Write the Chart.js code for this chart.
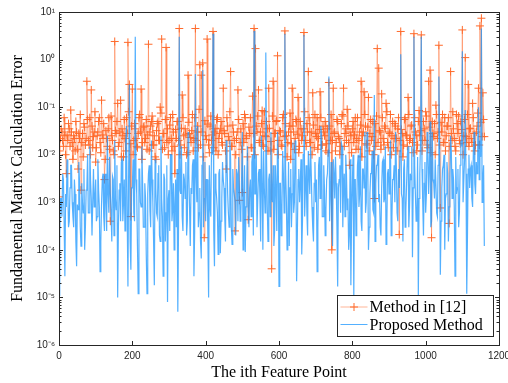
<!DOCTYPE html>
<html>
<head>
<meta charset="utf-8">
<script src="https://cdn.jsdelivr.net/npm/chart.js@4.4.1/dist/chart.umd.min.js"></script>
<style>
    html, body { margin: 0; padding: 0; background: #fff; }
    #wrap { width: 508px; height: 383px; }
</style>
</head>
<body>
<div id="wrap"><canvas id="errChart" width="508" height="383"></canvas></div>
<script>
// === Données ===
// valeurs aux positions 0, 4, 8, ... puis aux positions intermédiaires 2, 6, 10, ...
const sampleStep = 4;
const xTicks = [0, 200, 400, 600, 800, 1000, 1200];
const yDecades = [1e-6, 1e-5, 1e-4, 1e-3, 1e-2, 1e-1, 1, 10];
const seriesNames = ['Method in [12]', 'Proposed Method'];

const method12 = [
    1.3e-3, 2.2e-2, 3e-2, 1.5e-2, 2.5e-2, 4e-3, 2e-2, 3.5e-2, 8.7e-2, 1.8e-2,
    2.5e-2, 1.2e-2, 3e-2, 5e-3, 2.2e-2, 1.8e-3, 2.8e-2, 4.5e-2, 1.6e-2, 3.5e-1,
    2e-2, 6e-2, 2.3e-1, 1.4e-2, 3e-2, 7e-3, 2.5e-2, 5e-2, 1.8e-2, 1.4e-1,
    2.2e-2, 3e-3, 3.2e-2, 1.5e-2, 6e-2, 4e-4, 2.5e-2, 1.2e-2, 2.4, 2.8e-2,
    1.2e-1, 1.8e-2, 1.4e-1, 3.5e-2, 9e-3, 2.2e-2, 6e-2, 2.3, 3e-1, 5e-4,
    2.4e-1, 2e-2, 3.5e-2, 1.5e-2, 2.8e-2, 7e-2, 2.4e-1, 1.8e-2, 4e-2, 2.2e-2,
    1.3e-2, 2.1, 3e-2, 5e-2, 1.6e-2, 2.5e-2, 8e-3, 4.5e-2, 2e-2, 1e-1,
    2.7, 2.8e-2, 1.4e-2, 1.8, 3.5e-2, 2e-2, 6e-2, 1.2e-2, 3e-2, 4e-3,
    2.2e-2, 5e-2, 4.5, 1.6e-2, 1.8e-1, 2.5e-2, 3.5e-2, 1e-2, 4.7e-1, 2.8e-2,
    1.8e-2, 7e-2, 2.2e-2, 4.5, 3e-2, 1.4e-2, 7.8e-1, 4.7e-1, 8.5e-1, 1.8e-4,
    2.5e-2, 2.7, 1.6e-2, 4e-2, 2e-2, 3.9, 3e-2, 1.2e-2, 6e-2, 2.2e-2,
    3.5e-2, 1.8e-2, 2.5e-1, 2.8e-2, 5e-3, 4e-2, 2e-2, 5.6e-1, 1.5e-2, 3e-2,
    2.5e-4, 2.2e-2, 2.3e-1, 1.1e-3, 3.5e-2, 1.6e-3, 1.8e-2, 6e-2, 2.5e-2, 4.3e-4,
    2.8e-2, 1.4e-2, 1.7e-1, 4.5, 1.7, 3e-2, 2.3e-1, 2e-2, 4.5e-2, 1.6e-2,
    8e-2, 2.4e-2, 3.5e-2, 2.5e-1, 1.2e-2, 4e-5, 3.5e-1, 2.8e-2, 5e-2, 1.2,
    2e-2, 3e-2, 1.5e-2, 7e-2, 4, 2.5e-2, 1.8e-2, 4e-2, 8e-3, 2.5e-1,
    3e-2, 2.2e-2, 5e-2, 1.6e-1, 1.5e-2, 3.5e-2, 2.5e-2, 3.7, 2e-2, 4.5e-2,
    5.6e-1, 1.8e-2, 3e-2, 2e-1, 1.4e-2, 2.8e-2, 6e-2, 2.2e-2, 2.1e-1, 1.6e-2,
    4e-2, 2.5e-2, 1.2e-2, 3.5e-2, 3.3e-1, 2e-2, 1e-4, 2.5e-1, 3e-2, 1.8e-2,
    5e-2, 2.2e-2, 1.5e-2, 7e-2, 2.5e-1, 2.8e-2, 2e-2, 4e-2, 6e-3, 2.5e-2,
    3.5e-2, 1.8e-2, 6e-2, 2.2e-2, 1.3e-2, 3e-2, 3.5e-1, 2.5e-2, 2.1e-1, 4e-2,
    1.6e-2, 1.6e-1, 2.8e-2, 2e-2, 5e-2, 1.2e-3, 1.5e-2, 1.7, 6.6e-1, 3e-2,
    1.9e-1, 2.2e-2, 4e-2, 1.2e-1, 1.8e-2, 3e-2, 7e-2, 2.5e-2, 1.4e-2, 4.5e-2,
    2.2e-2, 3.5e-2, 2.1e-4, 3.9, 2.8e-2, 1.6e-2, 6e-2, 2.5e-2, 1.6e-1, 2e-2,
    4e-2, 1.8e-2, 3.5, 3e-2, 1.2e-2, 5e-2, 2.5e-2, 3.3, 2e-2, 3.5e-2,
    8e-2, 1.6e-2, 3.5e-1, 6e-1, 1.8e-4, 2.8e-2, 4.5e-2, 1.1e-1, 2.2e-2, 2,
    7.6e-4, 3e-2, 1.8e-2, 6e-2, 2.5e-2, 4e-2, 3.6e-4, 5.6e-1, 2e-2, 3.5e-2,
    1.5e-2, 7e-2, 2.8e-2, 2e-2, 5e-2, 4.2, 2.5e-2, 1.1, 1.8e-2, 3e-1,
    3.5e-2, 2.2e-2, 1.2e-1, 2.8e-2, 1.6e-2, 4e-2, 2.5e-1, 5.1, 7.4, 2e-1, 2.4e-2
];

const method12Mid = [
    1.2e-2, 3.5e-2, 2e-2, 6e-2, 1e-2, 2.6e-2, 4.5e-2, 1.5e-2, 3e-2, 8e-3,
    2.2e-2, 5e-2, 1.3e-2, 2.8e-2, 7e-2, 1.8e-2, 9e-3, 3.8e-2, 2.2e-2, 5.5e-2,
    1.6e-2, 1e-2, 4e-2, 2.4e-2, 8e-2, 1.4e-2, 3e-2, 6e-2, 1.1e-2, 2.6e-2,
    4.5e-2, 8e-3, 2.2e-2, 3.5e-2, 1.3e-2, 6.5e-2, 2e-2, 1e-2, 3.2e-2, 5e-2,
    1.5e-2, 3e-2, 9e-3, 2.5e-2, 5.5e-2, 1.2e-2, 2.8e-2, 8e-2, 1.7e-2, 4e-2,
    1e-2, 4.5e-2, 2.2e-2, 1.4e-2, 6e-2, 3e-2, 8e-3, 3.8e-2, 1.8e-2, 5.5e-2,
    2.6e-2, 1.2e-2, 4e-2, 6.5e-2, 1.6e-2, 9e-3, 3.2e-2, 5e-2, 2e-2, 7.5e-2,
    1.3e-2, 2.8e-2, 5.5e-2, 1.8e-2, 1e-2, 4.2e-2, 2.2e-2, 7e-2, 1.5e-2, 3.4e-2,
    5e-2, 2e-2, 1e-2, 3.6e-2, 6e-2, 1.4e-2, 2.7e-2, 1.1e-2, 4.8e-2, 2.3e-2,
    3.2e-2, 1.2e-2, 6e-2, 2e-2, 4e-2, 9e-2, 1.6e-2, 3e-2, 9e-3, 5.2e-2,
    2.1e-2, 4.4e-2, 1.1e-2, 6.5e-2, 2.6e-2, 1.4e-2, 3.6e-2, 5.5e-2, 1e-2, 2.8e-2,
    5e-2, 1.6e-2, 3.2e-2, 1.2e-2, 6e-2, 2.4e-2, 8e-2, 1.5e-2, 4.2e-2, 2e-2,
    1e-2, 3e-2, 5.5e-2, 1.8e-2, 1.3e-2, 4.5e-2, 7e-2, 2.2e-2, 9e-3, 3.8e-2,
    6e-2, 1.4e-2, 2.8e-2, 1e-2, 4e-2, 6.5e-2, 1.8e-2, 3e-2, 8.5e-2, 1.5e-2,
    2.5e-2, 5e-2, 1.2e-2, 3.6e-2, 1.9e-2, 6.5e-2, 1.3e-2, 2.8e-2, 5.2e-2, 1e-2,
    3.2e-2, 1.6e-2, 6e-2, 2.4e-2, 4.5e-2, 9e-3, 3e-2, 7.5e-2, 1.7e-2, 4e-2,
    1.3e-2, 5.5e-2, 2.7e-2, 1.1e-2, 5e-2, 2e-2, 3.5e-2, 8e-2, 1.5e-2, 3e-2,
    6e-2, 1.8e-2, 1e-2, 4.2e-2, 7e-2, 2.4e-2, 1.3e-2, 3.4e-2, 6e-2, 1.6e-2,
    3e-2, 5e-2, 1.7e-2, 1.1e-2, 4e-2, 7e-2, 2e-2, 2.8e-2, 1.2e-2, 5.5e-2,
    2.4e-2, 1e-2, 4.5e-2, 6.5e-2, 1.5e-2, 3.5e-2, 9e-2, 1.8e-2, 3e-2, 1.1e-2,
    5e-2, 2.6e-2, 1.3e-2, 6e-2, 2e-2, 4.2e-2, 9e-3, 3e-2, 7e-2, 1.7e-2,
    3.8e-2, 1.2e-2, 5.5e-2, 2.4e-2, 1e-2, 4.5e-2, 6.5e-2, 1.8e-2, 3.2e-2, 1.3e-2,
    6e-2, 1.6e-2, 3.6e-2, 8e-2, 1.4e-2, 2.8e-2, 1e-2, 5e-2, 2.2e-2, 4e-2,
    1.2e-2, 6e-2, 2e-2, 3.4e-2, 9e-3, 5.5e-2, 2.6e-2, 1.5e-2, 7e-2, 2.2e-2,
    4.2e-2, 1.1e-2, 6e-2, 2.6e-2, 1.6e-2, 8.5e-2, 3.2e-2, 1.2e-2, 5e-2, 2e-2,
    6.5e-2, 1.4e-2, 3.8e-2, 1.1e-2, 5e-2, 2.4e-2, 1e-2, 7e-2, 3e-2, 1.6e-2,
    4.8e-2, 7e-2, 1.8e-2, 1.2e-2, 4e-2, 6e-2, 1.5e-2, 2.8e-2, 8e-2, 2.2e-2,
    1.2e-2, 4.5e-2, 6.5e-2, 1.7e-2, 3.4e-2, 1e-2, 5.5e-2, 2.4e-2, 7e-2, 1.5e-2,
    3.6e-2, 1.8e-2, 6e-2, 1.2e-2, 3e-2, 7.5e-2, 1.6e-2, 4.8e-2, 2.4e-2, 5.5e-2
];

const proposed = [
    1.1e-5, 1.2e-3, 5e-4, 3e-3, 2.8e-5, 8e-4, 2e-3, 4e-4, 6e-3, 1e-3,
    3e-4, 1.5e-3, 4.5e-5, 7e-4, 2.5e-3, 1.2e-4, 1e-3, 5e-3, 3e-4, 2e-3,
    6e-4, 1.5e-2, 1.2e-3, 2e-4, 8e-4, 3e-3, 5e-4, 1.8e-3, 3.5e-5, 9e-4,
    4e-3, 2.5e-4, 1.2e-3, 2.5e-2, 6e-4, 1.5e-3, 1.5e-4, 3e-3, 2e-2, 7e-4,
    1e-5, 1.8e-3, 4e-4, 8e-3, 1e-3, 2.5e-4, 4e-2, 1.7e-5, 3e-1, 3.8e-5,
    2e-3, 6e-4, 3, 1.5e-3, 1.2e-5, 5e-3, 8e-4, 2.5e-3, 3e-4, 1.2e-3,
    1.2e-5, 4e-3, 7e-4, 2e-2, 1e-3, 1.8e-5, 2e-3, 5e-4, 6e-3, 1.5e-4,
    1.2e-3, 2.8e-5, 3e-3, 6e-4, 8e-6, 1.8e-3, 1e-2, 4e-4, 2.5e-3, 9e-4,
    3e-4, 5e-6, 3, 1.5e-3, 5e-4, 4e-3, 1.2e-3, 2e-4, 3e-2, 8e-4,
    2e-3, 6e-3, 2.8e-5, 5e-1, 1e-3, 3e-4, 2e-3, 6.6e-5, 6e-1, 1.2e-3,
    4e-4, 3e-3, 1e-5, 8e-4, 1.5e-2, 3.5, 4.5e-5, 2e-3, 6e-4, 4e-3,
    8.5e-5, 1.2e-3, 3e-3, 5e-4, 2e-2, 1.5e-3, 3e-4, 8e-3, 1.3e-4, 2e-3,
    1e-3, 5e-3, 4e-4, 1.8e-3, 6e-4, 3e-2, 1.2e-3, 9e-5, 3e-3, 7e-4,
    2e-3, 5e-4, 1e-2, 4, 1.5e-3, 3e-4, 4e-3, 1.2e-3, 2.5e-2, 1e-4,
    2e-3, 1.4, 8e-4, 3e-3, 5e-4, 1.5e-3, 6e-3, 2.5e-4, 2e-3, 3e-2,
    1.7e-5, 2.5e-3, 8e-4, 4e-3, 3.5, 1.2e-3, 3e-4, 1.2e-4, 5e-3, 1.5e-3,
    6e-4, 2e-2, 2.2e-5, 3e-3, 1e-3, 8e-3, 4e-4, 3.3, 2e-3, 6e-4,
    1.2e-2, 1.5e-3, 4e-3, 3e-4, 2.5e-3, 1e-3, 3.5e-5, 6e-3, 1.2e-3, 2.5e-2,
    5e-4, 2e-3, 7e-4, 4e-3, 4.4e-1, 1.5e-3, 3e-4, 8e-3, 1.2e-3, 2.5e-3,
    1.7e-5, 3e-3, 6e-4, 1.5e-2, 2e-3, 5e-4, 4e-3, 1.2e-3, 2e-4, 1.8e-5,
    2.5e-3, 1e-5, 3e-3, 8e-4, 1e-2, 1.5e-3, 4e-4, 5e-3, 2e-3, 6e-4,
    3e-2, 1e-4, 1.5e-3, 4e-3, 7e-4, 1.8e-1, 2.5e-3, 6e-3, 1e-3, 3e-4,
    2e-3, 8e-3, 1.2e-3, 1.3e-4, 4e-3, 1.5e-3, 2e-2, 5e-4, 3e-3, 1e-3,
    6e-3, 4e-4, 2e-3, 1.3, 1.2e-3, 5e-3, 3e-4, 2.5e-3, 1.5e-2, 8e-4,
    3e-3, 7e-5, 3, 1.5e-3, 5e-4, 1.1e-5, 4e-3, 3, 1e-3, 2.5e-3,
    6e-4, 3e-2, 1.5e-3, 5e-2, 4e-4, 3e-3, 1.2e-3, 8e-3, 5e-4, 4.4e-1,
    3e-5, 2e-3, 6e-3, 1e-4, 1.5e-3, 4e-3, 8e-4, 2.5e-2, 1.2e-3, 3e-3,
    2.8e-5, 1.5e-3, 5e-3, 6e-4, 2e-2, 1.5, 1e-3, 8.7e-2, 1.2e-5, 5e-3,
    2e-3, 6e-3, 8e-4, 3e-2, 1.5e-3, 4e-3, 1e-1, 2e-2, 4.5, 3e-3, 1.2e-4
];

const proposedMid = [
    2e-4, 1.2e-3, 4e-3, 4e-4, 1.5e-3, 8e-3, 3e-4, 2e-3, 6e-3, 5e-4,
    3e-3, 1.5e-4, 9e-4, 7e-3, 3e-4, 2.5e-3, 6e-4, 1e-4, 1.8e-3, 1e-2,
    6e-4, 3e-3, 2e-4, 5e-3, 1.2e-3, 4e-4, 8e-3, 8e-4, 1.5e-4, 3e-3,
    5e-4, 4e-3, 2.5e-4, 1.5e-3, 9e-3, 6e-4, 3.5e-3, 2e-4, 1.2e-3, 6e-3,
    3e-4, 2.5e-3, 7e-3, 4e-4, 3e-3, 2e-2, 5e-4, 5e-3, 1.5e-4, 2e-3,
    8e-3, 4e-4, 3e-3, 1.2e-4, 5e-3, 1e-3, 1.5e-2, 3e-4, 2.5e-3, 8e-5,
    1.5e-3, 6e-3, 3e-4, 3e-3, 1.5e-4, 8e-3, 6e-4, 4e-3, 2e-4, 2.5e-2,
    5e-4, 4e-3, 1.5e-4, 6e-3, 1.2e-3, 2.5e-4, 1e-2, 7e-4, 1e-4, 3e-3,
    5e-3, 3e-4, 1.8e-3, 1.5e-2, 2.5e-4, 3e-3, 7e-3, 4e-4, 4e-3, 1.2e-4,
    1.5e-3, 8e-3, 2.5e-4, 3.5e-3, 4e-2, 6e-4, 1.5e-4, 6e-3, 3e-4, 7e-3,
    3e-3, 2e-4, 6e-3, 5e-4, 1e-2, 2.5e-4, 4e-3, 1.2e-3, 8e-5, 5e-3,
    4e-4, 7e-3, 2e-3, 1.5e-4, 8e-3, 6e-4, 2e-2, 3e-4, 5e-3, 1.5e-3,
    2e-4, 4e-3, 9e-3, 4e-4, 3e-3, 1e-4, 6e-3, 8e-4, 1.5e-2, 3e-4,
    3e-3, 7e-3, 2e-4, 1.5e-3, 1e-2, 3e-4, 5e-3, 1.5e-4, 2.5e-3, 1.2e-2,
    6e-4, 8e-3, 1.5e-4, 4e-3, 3e-2, 1e-3, 1.2e-4, 6e-3, 2.5e-4, 9e-3,
    2.5e-3, 2e-4, 1.2e-2, 6e-4, 5e-3, 1e-4, 7e-3, 2e-3, 3e-4, 1.8e-2,
    1e-3, 8e-3, 2e-4, 5e-3, 2.5e-3, 8e-5, 1e-2, 5e-4, 6e-3, 2e-4,
    4e-3, 1.5e-2, 8e-4, 1.5e-4, 7e-3, 3e-3, 3e-4, 9e-3, 4e-2, 5e-4,
    6e-3, 2e-4, 3e-3, 1.2e-2, 4e-4, 7e-3, 1.2e-4, 4e-3, 9e-3, 3e-4,
    2e-3, 6e-3, 1.8e-2, 3e-4, 4e-3, 1e-2, 7e-4, 1e-4, 8e-3, 5e-4,
    1e-2, 3e-3, 2e-4, 6e-3, 8e-4, 1.5e-2, 2.5e-4, 5e-3, 3e-2, 1e-3,
    8e-3, 3e-4, 4e-3, 1.2e-2, 6e-4, 1.5e-4, 6e-3, 1e-2, 1.5e-3, 2e-4,
    7e-3, 1e-3, 1.5e-2, 3e-4, 5e-3, 9e-3, 2e-4, 3e-3, 6e-3, 3e-2,
    6e-4, 5e-3, 1.2e-2, 1.5e-3, 1.5e-4, 8e-3, 7e-4, 1e-2, 3e-4, 4e-3,
    1.5e-2, 2e-3, 6e-3, 4e-4, 9e-3, 1.2e-3, 2e-2, 5e-3, 2e-4, 7e-3,
    1.5e-3, 1.2e-2, 5e-3, 3e-4, 3e-2, 2.5e-3, 8e-3, 6e-4, 6e-3, 1.5e-2,
    4e-4, 5e-3, 1e-2, 1.2e-3, 7e-3, 1.5e-4, 3e-3, 1.2e-2, 5e-3, 8e-4,
    9e-3, 2e-3, 3e-4, 6e-3, 1.5e-2, 1e-3, 8e-3, 4e-3, 2e-4, 1e-2,
    5e-3, 1.2e-3, 1.2e-2, 2.5e-3, 7e-3, 2e-2, 3e-3, 9e-3, 1e-3, 6e-3
];

// === Styles ===
const axisColor = '#262626';
const orangeMark = '#ff6a2b';
const orangeLine = 'rgba(255, 110, 50, 0.5)';
const blueLine = 'rgba(25, 150, 255, 0.75)';
const serif = "'Liberation Serif', 'Times New Roman', serif";
const sans = "'Liberation Sans', Arial, sans-serif";

const supMap = { '-': '⁻', '0': '⁰', '1': '¹', '2': '²', '3': '³', '4': '⁴', '5': '⁵', '6': '⁶', '7': '⁷', '8': '⁸', '9': '⁹' };
const toSup = s => String(s).split('').map(c => supMap[c] || c).join('');

// fusionne les deux relevés dans l'ordre des positions
function toPoints(main, mid) {
    const pts = [];
    main.forEach((v, i) => {
        pts.push({ x: i * sampleStep, y: v });
        if (i < mid.length) pts.push({ x: i * sampleStep + sampleStep / 2, y: mid[i] });
    });
    return pts;
}

// === Cadre MATLAB : boîte, graduations vers l'intérieur, légende ===
const matlabFrame = {
    id: 'matlabFrame',
    afterDatasetsDraw(chart) {
        const { ctx, chartArea: a, scales } = chart;
        const xs = scales.x, ys = scales.y;
        ctx.save();
        ctx.strokeStyle = axisColor;
        ctx.lineWidth = 1;
        ctx.beginPath();
        xTicks.forEach(t => {
            const px = Math.round(xs.getPixelForValue(t)) + 0.5;
            ctx.moveTo(px, a.bottom); ctx.lineTo(px, a.bottom - 4);
            ctx.moveTo(px, a.top); ctx.lineTo(px, a.top + 4);
        });
        for (let d = 0; d < yDecades.length; d++) {
            const base = yDecades[d];
            for (let m = 1; m <= 9; m++) {
                const v = base * m;
                if (v > yDecades[yDecades.length - 1] + 1e-9) break;
                const py = Math.round(ys.getPixelForValue(v)) + 0.5;
                const len = m === 1 ? 4 : 2.5;
                ctx.moveTo(a.left, py); ctx.lineTo(a.left + len, py);
                ctx.moveTo(a.right, py); ctx.lineTo(a.right - len, py);
            }
        }
        ctx.stroke();
        ctx.strokeRect(Math.round(a.left) + 0.5, Math.round(a.top) + 0.5,
            Math.round(a.right - a.left), Math.round(a.bottom - a.top));

        // légende
        const bx = 337.5, by = 295.5, bw = 156, bh = 41;
        ctx.fillStyle = '#fff';
        ctx.fillRect(bx, by, bw, bh);
        ctx.strokeRect(bx, by, bw, bh);
        const rows = [by + 11.5, by + 29];
        ctx.strokeStyle = orangeLine;
        ctx.beginPath(); ctx.moveTo(bx + 3, rows[0]); ctx.lineTo(bx + 30, rows[0]); ctx.stroke();
        ctx.strokeStyle = orangeMark;
        ctx.beginPath();
        ctx.moveTo(bx + 12.5, rows[0]); ctx.lineTo(bx + 20.5, rows[0]);
        ctx.moveTo(bx + 16.5, rows[0] - 4); ctx.lineTo(bx + 16.5, rows[0] + 4);
        ctx.stroke();
        ctx.strokeStyle = blueLine;
        ctx.beginPath(); ctx.moveTo(bx + 3, rows[1]); ctx.lineTo(bx + 30, rows[1]); ctx.stroke();
        ctx.fillStyle = '#000';
        ctx.font = '16px ' + serif;
        ctx.textBaseline = 'middle';
        ctx.textAlign = 'left';
        ctx.fillText(seriesNames[0], bx + 32, rows[0] + 1);
        ctx.fillText(seriesNames[1], bx + 32, rows[1] + 1);
        ctx.restore();
    }
};

document.addEventListener('DOMContentLoaded', function () {
    const ctx = document.getElementById('errChart').getContext('2d');
    new Chart(ctx, {
        type: 'line',
        data: {
            datasets: [
                {
                    label: seriesNames[0],
                    data: toPoints(method12, method12Mid),
                    borderColor: orangeLine,
                    borderWidth: 1,
                    pointStyle: 'cross',
                    pointRadius: 4,
                    pointBorderColor: orangeMark,
                    pointBorderWidth: 1,
                    tension: 0,
                    order: 2
                },
                {
                    label: seriesNames[1],
                    data: toPoints(proposed, proposedMid),
                    borderColor: blueLine,
                    borderWidth: 1.2,
                    pointRadius: 0,
                    tension: 0,
                    order: 1
                }
            ]
        },
        options: {
            responsive: false,
            animation: false,
            events: [],
            layout: { padding: { left: 0, top: 12, right: 9, bottom: 0 } },
            plugins: {
                legend: { display: false },
                tooltip: { enabled: false }
            },
            scales: {
                x: {
                    type: 'linear',
                    min: 0,
                    max: 1200,
                    grid: { display: false, drawTicks: false },
                    border: { display: false },
                    afterBuildTicks: s => { s.ticks = xTicks.map(v => ({ value: v })); },
                    afterFit: s => { s.height = 38; s.paddingRight = 0; s.paddingLeft = 0; },
                    ticks: {
                        color: axisColor,
                        font: { family: sans, size: 10 },
                        padding: 5,
                        maxRotation: 0,
                        autoSkip: false,
                        callback: v => String(v)
                    },
                    title: {
                        display: true,
                        text: 'The ith Feature Point',
                        color: '#000',
                        font: { family: serif, size: 16 },
                        padding: { top: 0, bottom: 1 }
                    }
                },
                y: {
                    type: 'logarithmic',
                    min: 1e-6,
                    max: 10,
                    grid: { display: false, drawTicks: false },
                    border: { display: false },
                    afterBuildTicks: s => { s.ticks = yDecades.map(v => ({ value: v })); },
                    afterFit: s => { s.width = 59; },
                    ticks: {
                        color: axisColor,
                        font: { family: sans, size: 10 },
                        padding: 4,
                        autoSkip: false,
                        callback: v => '10' + toSup(Math.round(Math.log10(v)))
                    },
                    title: {
                        display: true,
                        text: 'Fundamental Matrix Calculation Error',
                        color: '#000',
                        font: { family: serif, size: 16 },
                        padding: { top: 8, bottom: 0 }
                    }
                }
            }
        },
        plugins: [matlabFrame]
    });
});
</script>
</body>
</html>
